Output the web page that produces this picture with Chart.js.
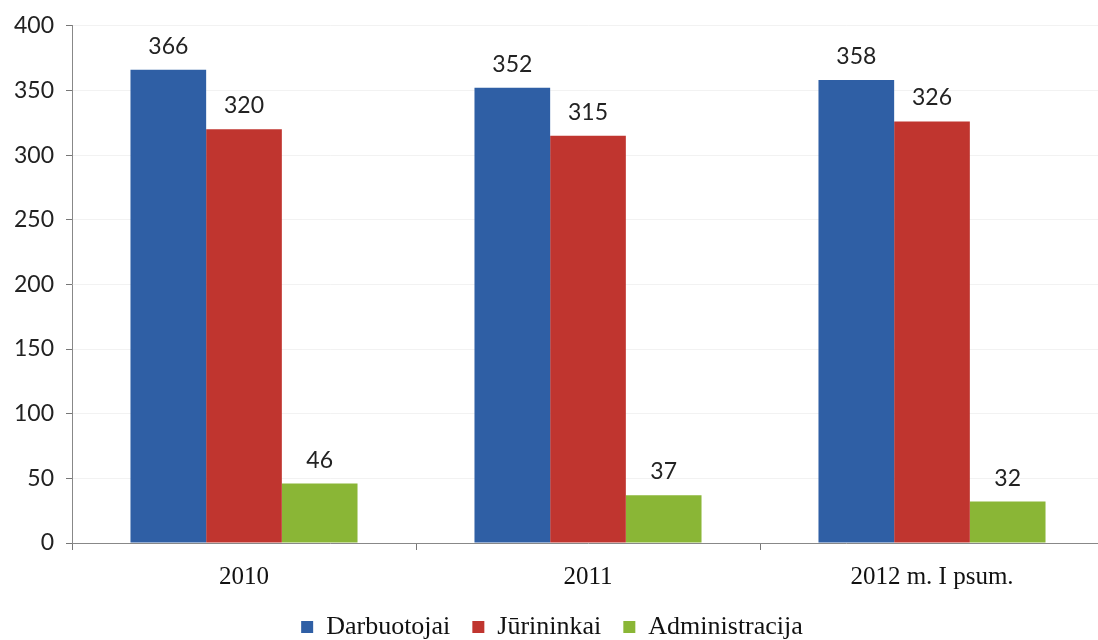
<!DOCTYPE html>
<html>
<head>
<meta charset="utf-8">
<script src="https://cdn.jsdelivr.net/npm/chart.js@4"></script>
<style>
  html, body { margin: 0; padding: 0; background: #fff; overflow: hidden; }
  #wrap { position: relative; width: 1106px; height: 640px; }
</style>
</head>
<body>
<div id="wrap"><canvas id="c"></canvas></div>
<script>
const categories = ['2010', '2011', '2012 m. I psum.'];
const darbuotojai = [366, 352, 358];
const jurininkai = [320, 315, 326];
const administracija = [46, 37, 32];
const seriesNames = ['Darbuotojai', 'Jūrininkai', 'Administracija'];
const seriesColors = ['#2f5fa5', '#c0352f', '#8ab636'];
const yTicks = [0, 50, 100, 150, 200, 250, 300, 350, 400];

const valueLabels = {
  id: 'valueLabels',
  afterDatasetsDraw(chart) {
    const ctx = chart.ctx;
    ctx.save();
    ctx.font = '23px Lato';
    ctx.fillStyle = '#222';
    ctx.textAlign = 'center';
    ctx.textBaseline = 'alphabetic';
    chart.data.datasets.forEach((ds, i) => {
      const meta = chart.getDatasetMeta(i);
      meta.data.forEach((bar, j) => {
        ctx.fillText(String(ds.data[j]), bar.x, bar.y - 16);
      });
    });
    ctx.restore();
  }
};

new Chart(document.getElementById('c'), {
  type: 'bar',
  data: {
    labels: categories,
    datasets: [
      { label: seriesNames[0], data: darbuotojai, backgroundColor: seriesColors[0] },
      { label: seriesNames[1], data: jurininkai, backgroundColor: seriesColors[1] },
      { label: seriesNames[2], data: administracija, backgroundColor: seriesColors[2] }
    ]
  },
  options: {
    responsive: true,
    maintainAspectRatio: false,
    animation: false,
    datasets: { bar: { categoryPercentage: 0.66, barPercentage: 1.0 } },
    layout: { padding: { top: 25, right: 2, left: 0, bottom: -10 } },
    plugins: {
      tooltip: { enabled: false },
      legend: {
        position: 'bottom',
        labels: {
          font: { family: 'Liberation Serif', size: 26 },
          color: '#111',
          boxWidth: 12,
          boxHeight: 12,
          padding: 22
        }
      }
    },
    scales: {
      x: {
        grid: { display: true, drawOnChartArea: false, offset: true, color: '#777', tickLength: 7 },
        border: { display: true, color: '#888', width: 1 },
        ticks: { font: { family: 'Liberation Serif', size: 25 }, color: '#111', padding: 12 },
        afterFit(scale) { scale.height = 49; }
      },
      y: {
        min: 0, max: 400,
        afterBuildTicks(scale) { scale.ticks = yTicks.map(v => ({ value: v })); },
        grid: { color: 'rgba(0,0,0,0.05)', tickColor: '#777', tickLength: 6 },
        border: { display: true, color: '#888', width: 1 },
        ticks: { font: { family: 'Lato', size: 23 }, color: '#222', padding: 12 },
        afterFit(scale) { scale.width = 72; }
      }
    }
  },
  plugins: [valueLabels]
});
</script>
</body>
</html>
